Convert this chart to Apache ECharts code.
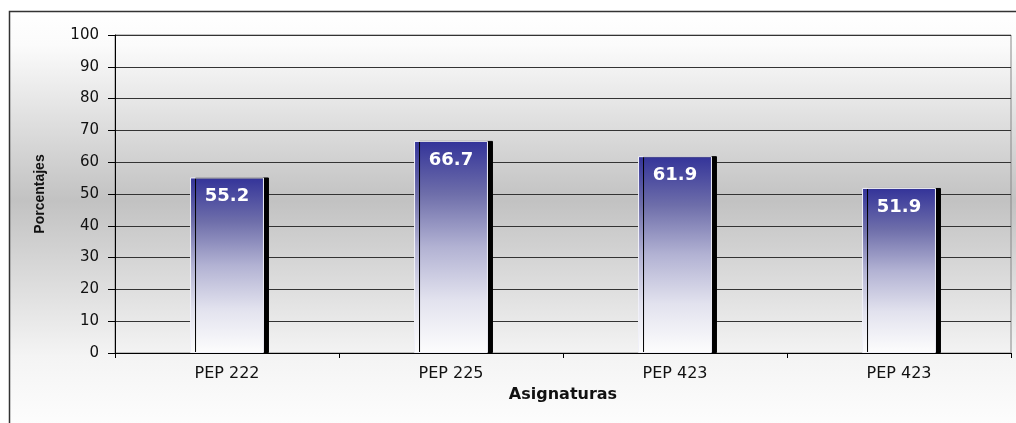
<!DOCTYPE html>
<html>
<head>
<meta charset="utf-8">
<script src="https://cdn.jsdelivr.net/npm/echarts@6/dist/echarts.min.js"></script>
<style>html,body{margin:0;padding:0;background:#fff;}#c{width:1016px;height:423px;}</style>
</head>
<body>
<div id="c"></div>
<script>
const categories = ['PEP 222', 'PEP 225', 'PEP 423', 'PEP 423'];
const values = [55.2, 66.7, 61.9, 51.9];
const yTicks = [0, 10, 20, 30, 40, 50, 60, 70, 80, 90, 100];

const chart = echarts.init(document.getElementById('c'), null, {renderer: 'canvas'});
const wide = '"DejaVu Sans", Verdana, sans-serif';
const arial = 'Arial, "Liberation Sans", sans-serif';
chart.setOption({
  animation: false,
  graphic: [{
    type: 'rect', z: -10, silent: true,
    shape: {x: 9.5, y: 11.5, width: 1030, height: 430},
    style: {
      stroke: '#333', lineWidth: 1.5,
      fill: new echarts.graphic.LinearGradient(0, 0, 0, 1, [
        {offset: 0, color: '#ffffff'},
        {offset: 0.08, color: '#fbfbfb'},
        {offset: 0.44, color: '#c2c2c2'},
        {offset: 0.80, color: '#f4f4f4'},
        {offset: 1, color: '#ffffff'}
      ])
    }
  }],
  grid: {
    left: 115, right: 5, top: 35, bottom: 70,
    show: true, borderColor: '#888', borderWidth: 1, backgroundColor: 'transparent'
  },
  xAxis: {
    type: 'category', data: categories,
    name: 'Asignaturas', nameLocation: 'middle', nameGap: 30,
    nameTextStyle: {fontFamily: wide, fontWeight: 'bold', fontSize: 16, color: '#111'},
    axisLine: {lineStyle: {color: '#000', width: 1}},
    axisTick: {show: true, alignWithLabel: false, length: 5, lineStyle: {color: '#000'}},
    axisLabel: {fontFamily: wide, fontSize: 16, color: '#111', margin: 13}
  },
  yAxis: {
    type: 'value', min: yTicks[0], max: yTicks[yTicks.length - 1], interval: 10,
    name: 'Porcentajes', nameLocation: 'middle', nameGap: 68, nameRotate: 90,
    nameTextStyle: {fontFamily: arial, fontWeight: 'bold', fontSize: 14, color: '#111'},
    axisLine: {show: true, lineStyle: {color: '#000', width: 1}},
    axisTick: {show: true, length: 7, lineStyle: {color: '#000'}},
    axisLabel: {fontFamily: wide, fontSize: 15, color: '#111', margin: 16},
    splitLine: {show: true, lineStyle: {color: '#333', width: 1}}
  },
  series: [{
    type: 'bar', data: values, barWidth: '33%',
    itemStyle: {
      color: new echarts.graphic.LinearGradient(0, 0, 0, 1, [
        {offset: 0, color: '#333399'},
        {offset: 0.25, color: '#6e6eaa'},
        {offset: 0.5, color: '#b2b2d3'},
        {offset: 0.75, color: '#e2e2ee'},
        {offset: 1, color: '#fdfdfd'}
      ]),
      borderColor: '#f0f0f8', borderWidth: 1,
      shadowColor: '#000', shadowOffsetX: 5, shadowOffsetY: 0, shadowBlur: 0
    },
    label: {
      show: true, position: 'insideTop', distance: 10,
      color: '#fff', fontFamily: wide, fontWeight: 'bold', fontSize: 18,
      formatter: p => p.value.toFixed(1)
    }
  }]
});
</script>
</body>
</html>
